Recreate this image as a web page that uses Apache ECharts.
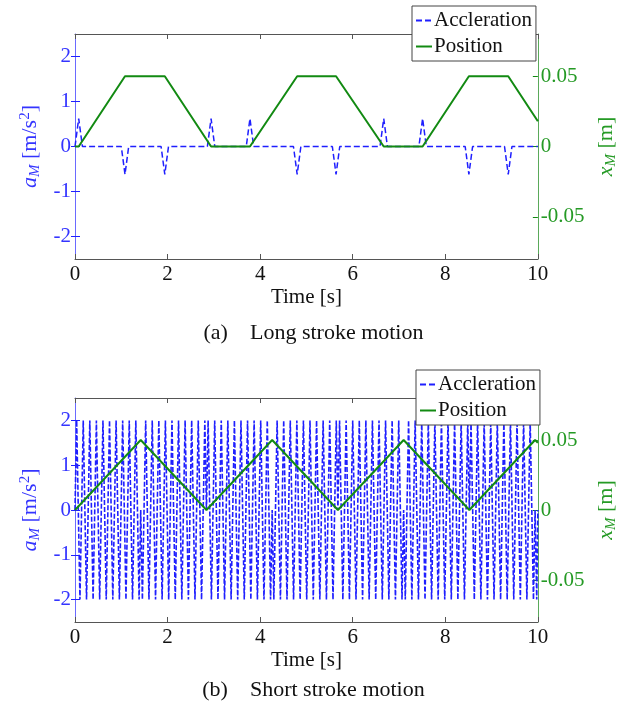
<!DOCTYPE html>
<html>
<head>
<meta charset="utf-8">
<script src="https://cdn.jsdelivr.net/npm/echarts@6/dist/echarts.min.js"></script>
<style>
  html, body { margin: 0; padding: 0; background: #fff; }
  #chart { width: 627px; height: 713px; }
</style>
</head>
<body>
<div id="chart"></div>
<script>
// tick labels
var timeTicks = [0, 2, 4, 6, 8, 10];
var accTicks = [-2, -1, 0, 1, 2];
var posTicks = [-0.05, 0, 0.05];

// (a) long stroke: acceleration spikes and trapezoid position
var longAccT = [0, 0.08, 0.16, 1.00, 1.08, 1.16, 1.86, 1.94, 2.02, 2.86, 2.94, 3.02, 3.70, 3.78, 3.86,
  4.72, 4.80, 4.88, 5.56, 5.64, 5.72, 6.59, 6.67, 6.75, 7.43, 7.51, 7.59, 8.43, 8.51, 8.59, 9.28, 9.36, 9.44, 10];
var longAccV = [0, 0.62, 0, 0, -0.62, 0, 0, -0.62, 0, 0, 0.62, 0, 0, 0.62, 0,
  0, -0.62, 0, 0, -0.62, 0, 0, 0.62, 0, 0, 0.62, 0, 0, -0.62, 0, 0, -0.62, 0, 0];
var longPosT = [0, 0.08, 1.08, 1.94, 2.94, 3.78, 4.80, 5.64, 6.67, 7.51, 8.51, 9.36, 10];
var longPosV = [0, 0, 0.05, 0.05, 0, 0, 0.05, 0.05, 0, 0, 0.05, 0.05, 0.018];

// (b) short stroke: fast +/-2 oscillation, triangle position
var shortAcc = [
  [0, 0], [0.036, 2], [0.107, -2], [0.178, 2], [0.249, -2], [0.320, 2], [0.391, -2], [0.462, 2], [0.533, -2], [0.604, 2], [0.675, -2],
  [0.746, 2], [0.817, -2], [0.888, 2], [0.959, -2], [1.030, 2], [1.101, -2], [1.172, 2], [1.243, -2], [1.314, 2], [1.385, -2],
  [1.42, 0],
  [1.456, -2], [1.527, 2], [1.598, -2], [1.669, 2], [1.740, -2], [1.811, 2], [1.882, -2], [1.953, 2], [2.024, -2], [2.095, 2],
  [2.166, -2], [2.237, 2], [2.308, -2], [2.379, 2], [2.450, -2], [2.521, 2], [2.592, -2], [2.663, 2], [2.734, -2], [2.805, 2],
  [2.84, 0],
  [2.876, 2], [2.947, -2], [3.018, 2], [3.089, -2], [3.160, 2], [3.231, -2], [3.302, 2], [3.373, -2], [3.444, 2], [3.515, -2],
  [3.586, 2], [3.657, -2], [3.728, 2], [3.799, -2], [3.870, 2], [3.941, -2], [4.012, 2], [4.083, -2], [4.154, 2], [4.225, -2],
  [4.26, 0],
  [4.296, -2], [4.367, 2], [4.438, -2], [4.509, 2], [4.580, -2], [4.651, 2], [4.722, -2], [4.793, 2], [4.864, -2], [4.935, 2],
  [5.006, -2], [5.077, 2], [5.148, -2], [5.219, 2], [5.290, -2], [5.361, 2], [5.432, -2], [5.503, 2], [5.574, -2], [5.645, 2],
  [5.68, 0],
  [5.716, 2], [5.787, -2], [5.858, 2], [5.929, -2], [6.000, 2], [6.071, -2], [6.142, 2], [6.213, -2], [6.284, 2], [6.355, -2],
  [6.426, 2], [6.497, -2], [6.568, 2], [6.639, -2], [6.710, 2], [6.781, -2], [6.852, 2], [6.923, -2], [6.994, 2], [7.065, -2],
  [7.10, 0],
  [7.136, -2], [7.207, 2], [7.278, -2], [7.349, 2], [7.420, -2], [7.491, 2], [7.562, -2], [7.633, 2], [7.704, -2], [7.775, 2],
  [7.846, -2], [7.917, 2], [7.988, -2], [8.059, 2], [8.130, -2], [8.201, 2], [8.272, -2], [8.343, 2], [8.414, -2], [8.485, 2],
  [8.52, 0],
  [8.556, 2], [8.627, -2], [8.698, 2], [8.769, -2], [8.840, 2], [8.911, -2], [8.982, 2], [9.053, -2], [9.124, 2], [9.195, -2],
  [9.266, 2], [9.337, -2], [9.408, 2], [9.479, -2], [9.550, 2], [9.621, -2], [9.692, 2], [9.763, -2], [9.834, 2], [9.905, -2],
  [9.94, 0], [9.976, -2], [10, 0]
];
var shortPosT = [0, 1.42, 2.84, 4.26, 5.68, 7.10, 8.52, 9.94, 10];
var shortPosV = [0, 0.05, 0, 0.05, 0, 0.05, 0, 0.05, 0.048];

var FONT = 'Liberation Serif';
var BLUE = '#1f1fff';
var BLUE_TXT = '#3434ff';
var GREEN = '#128a12';
var GREEN_TXT = '#259a25';
var GRAY = '#555';

function pairs(t, v) {
  return t.map(function (x, i) { return [x, v[i]]; });
}

var accName = '{i|a}{s|M}{n| [m/s}{p|2}{n|]}';
var posName = '{i|x}{s|M}{n| [m]}';
function nameRich(color) {
  return {
    i: { fontFamily: FONT, fontSize: 22, fontStyle: 'italic', color: color },
    s: { fontFamily: FONT, fontSize: 15, fontStyle: 'italic', color: color, verticalAlign: 'bottom', padding: [10, 0, 0, 0] },
    n: { fontFamily: FONT, fontSize: 22, color: color },
    p: { fontFamily: FONT, fontSize: 15, color: color, verticalAlign: 'top', padding: [0, 0, 8, 0] }
  };
}

function timeAxis(gridIndex) {
  return {
    type: 'value', gridIndex: gridIndex, position: 'bottom',
    min: 0, max: 10, interval: 2,
    name: 'Time [s]', nameLocation: 'middle', nameGap: 28,
    nameTextStyle: { fontFamily: FONT, fontSize: 21, color: '#111' },
    axisLine: { onZero: false, lineStyle: { color: GRAY, width: 1 } },
    axisTick: { inside: true, length: 5, lineStyle: { color: GRAY } },
    axisLabel: { margin: 5, fontFamily: FONT, fontSize: 21, color: '#111' },
    splitLine: { show: false }
  };
}
function topAxis(gridIndex) {
  return {
    type: 'value', gridIndex: gridIndex, position: 'top',
    min: 0, max: 10, interval: 2,
    axisLine: { onZero: false, lineStyle: { color: GRAY, width: 1 } },
    axisTick: { inside: true, length: 5, lineStyle: { color: GRAY } },
    axisLabel: { show: false },
    splitLine: { show: false }
  };
}
function accAxis(gridIndex) {
  return {
    type: 'value', gridIndex: gridIndex, position: 'left',
    min: -2.5, max: 2.5,
    name: accName, nameLocation: 'middle', nameRotate: 90, nameGap: 31,
    nameTextStyle: { rich: nameRich(BLUE_TXT) },
    axisLine: { onZero: false, lineStyle: { color: '#6a6aff', width: 1 } },
    axisTick: { inside: true, length: 5, customValues: accTicks, lineStyle: { color: BLUE } },
    axisLabel: { margin: 4, customValues: accTicks, fontFamily: FONT, fontSize: 21, color: BLUE_TXT },
    splitLine: { show: false }
  };
}
function posAxis(gridIndex) {
  return {
    type: 'value', gridIndex: gridIndex, position: 'right',
    min: -0.08, max: 0.08,
    name: posName, nameLocation: 'middle', nameRotate: 90, nameGap: 50,
    nameTextStyle: { rich: nameRich(GREEN_TXT) },
    axisLine: { onZero: false, lineStyle: { color: '#5aa95a', width: 1 } },
    axisTick: { inside: true, length: 5, customValues: posTicks, lineStyle: { color: GREEN } },
    axisLabel: { margin: 3, customValues: posTicks, fontFamily: FONT, fontSize: 21, color: GREEN_TXT },
    splitLine: { show: false }
  };
}
function mirrorAxis(gridIndex) {
  return {
    type: 'value', gridIndex: gridIndex, position: 'right',
    min: -2.5, max: 2.5,
    axisLine: { show: false },
    axisTick: { inside: true, length: 4, customValues: accTicks, lineStyle: { color: BLUE } },
    axisLabel: { show: false },
    splitLine: { show: false }
  };
}
function legendAt(top, left) {
  return {
    top: top, left: left, orient: 'vertical',
    data: ['Accleration', 'Position'],
    backgroundColor: '#fff', borderColor: '#444', borderWidth: 1,
    padding: [4, 4, 4, 3], itemGap: 5, itemWidth: 16, itemHeight: 20,
    itemStyle: { opacity: 0 },
    textStyle: { fontFamily: FONT, fontSize: 21, color: '#111', padding: [0, 0, 0, -3] }
  };
}
function caption(text, y) {
  return {
    type: 'text', left: 'center', top: y,
    style: { text: text, fontFamily: FONT, fontSize: 22, fill: '#111' }
  };
}

var accStyle = { color: BLUE, width: 1.5, type: [6, 3] };
var accStyleDense = { color: BLUE, width: 1.6, type: [5, 2] };
var posStyle = { color: GREEN, width: 2 };

var option = {
  animation: false,
  backgroundColor: '#fff',
  grid: [
    { left: 75, right: 87, top: 34, height: 225 },
    { left: 75, right: 87, top: 398, height: 224 }
  ],
  legend: [legendAt(6, 412), legendAt(370, 416)],
  xAxis: [timeAxis(0), topAxis(0), timeAxis(1), topAxis(1)],
  yAxis: [accAxis(0), posAxis(0), mirrorAxis(0), accAxis(1), posAxis(1), mirrorAxis(1)],
  series: [
    { name: 'Accleration', type: 'line', xAxisIndex: 0, yAxisIndex: 0, symbol: 'none',
      data: pairs(longAccT, longAccV), lineStyle: accStyle, itemStyle: { color: BLUE } },
    { name: 'Position', type: 'line', xAxisIndex: 0, yAxisIndex: 1, symbol: 'none',
      data: pairs(longPosT, longPosV), lineStyle: posStyle, itemStyle: { color: GREEN } },
    { name: 'Accleration', type: 'line', xAxisIndex: 2, yAxisIndex: 3, symbol: 'none',
      data: shortAcc, lineStyle: accStyleDense, itemStyle: { color: BLUE } },
    { name: 'Position', type: 'line', xAxisIndex: 2, yAxisIndex: 4, symbol: 'none',
      data: pairs(shortPosT, shortPosV), lineStyle: posStyle, itemStyle: { color: GREEN } }
  ],
  graphic: [
    caption('(a)    Long stroke motion', 322),
    caption('(b)    Short stroke motion', 679)
  ]
};

var myChart = echarts.init(document.getElementById('chart'));
myChart.setOption(option);
</script>
</body>
</html>
